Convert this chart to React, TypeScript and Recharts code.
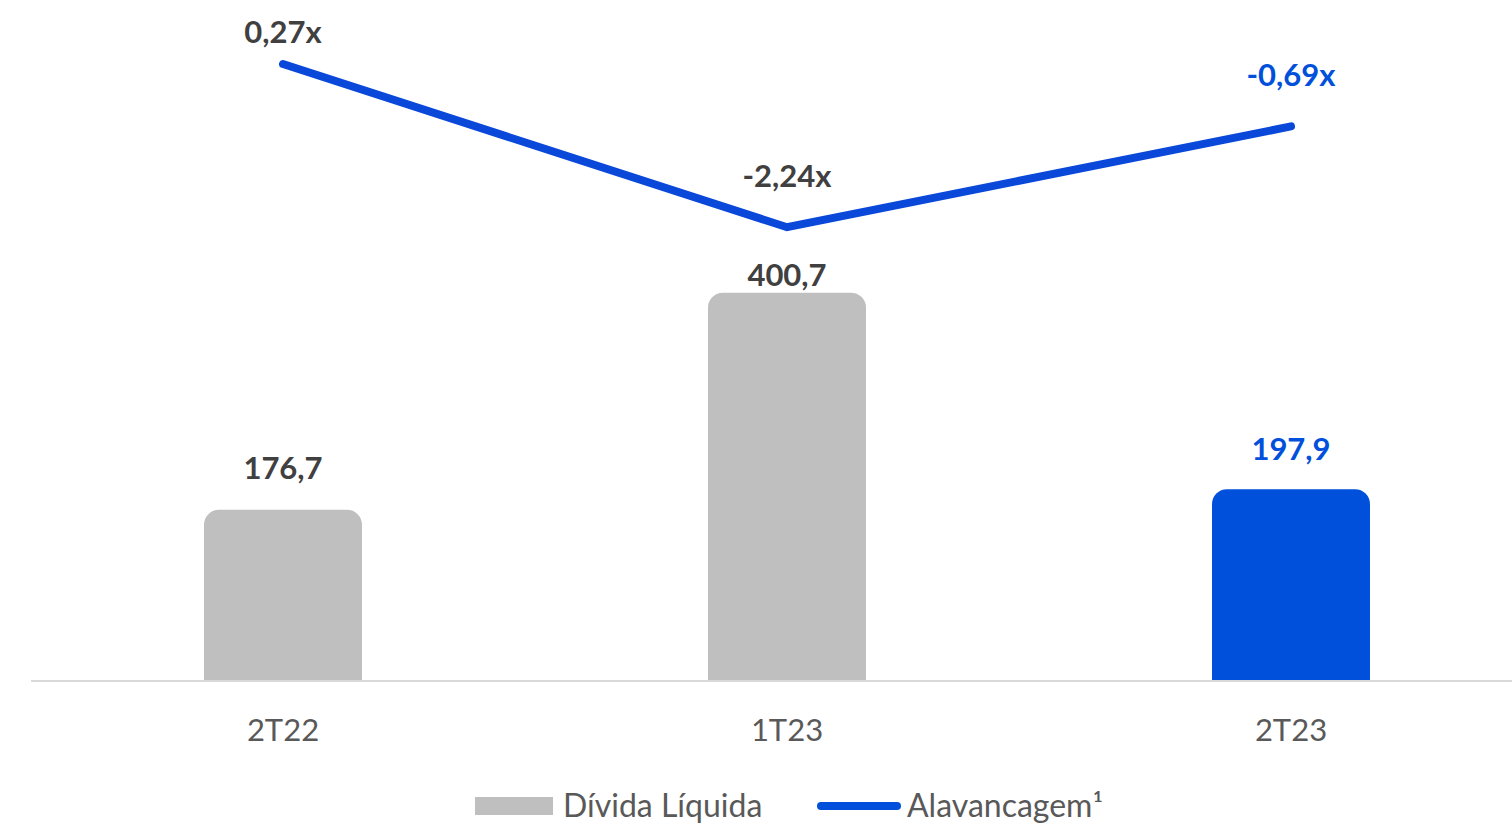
import React from 'react';
import {
  ComposedChart, Bar, Line, XAxis, YAxis, Cell, LabelList, Legend,
} from 'recharts';

const periodos = ['2T22', '1T23', '2T23'];
const dividaLiquida = [176.7, 400.7, 197.9];
const alavancagem = [0.27, -2.24, -0.69];
const rotulosDivida = ['176,7', '400,7', '197,9'];
const rotulosAlav = ['0,27x', '-2,24x', '-0,69x'];

const CINZA = '#BFBFBF';
const AZUL = '#0050DC';
const TEXTO = '#404040';
const FONTE = 'Lato, "Open Sans", sans-serif';

const dados = periodos.map((p, i) => ({
  periodo: p,
  divida: dividaLiquida[i],
  alav: alavancagem[i],
}));

// o último período fica em destaque (azul)
const corDoIndice = (i: number) => (i === periodos.length - 1 ? AZUL : TEXTO);

const RotuloBarra = (props: any) => {
  const { x, y, width, index } = props;
  // o rótulo do meio fica mais perto da barra por causa da linha
  const dy = [31, 7, 29][index] ?? 25;
  return (
    <text
      x={x + width / 2}
      y={y - dy}
      textAnchor="middle"
      fontSize={31}
      fontWeight={700}
      fontFamily={FONTE}
      fill={corDoIndice(index)}
    >
      {rotulosDivida[index]}
    </text>
  );
};

const RotuloLinha = (props: any) => {
  const { x, y, index } = props;
  const dy = index === 0 ? 21 : 40;
  return (
    <text
      x={x}
      y={y - dy}
      textAnchor="middle"
      fontSize={31}
      fontWeight={700}
      fontFamily={FONTE}
      fill={corDoIndice(index)}
    >
      {rotulosAlav[index]}
    </text>
  );
};

const LegendaCustom = () => (
  <div style={{ position: 'relative', height: 38, fontFamily: FONTE, fontSize: 32, color: '#595959' }}>
    <span style={{ position: 'absolute', left: 475, top: 11, width: 78, height: 18, background: CINZA }} />
    <span style={{ position: 'absolute', left: 563, top: 0, lineHeight: '38px' }}>Dívida Líquida</span>
    <span style={{ position: 'absolute', left: 817, top: 16, width: 84, height: 8, borderRadius: 4, background: AZUL }} />
    <span style={{ position: 'absolute', left: 907, top: 0, lineHeight: '38px' }}>Alavancagem¹</span>
  </div>
);

const App: React.FC = () => {
  return (
    <div style={{ position: 'fixed', left: 0, top: 0, width: 1512, height: 825, overflow: 'hidden', background: '#fff' }}>
      <ComposedChart
        width={1545}
        height={825}
        data={dados}
        margin={{ top: 20, right: 2, left: 31, bottom: 0 }}
      >
        <XAxis
          dataKey="periodo"
          axisLine={{ stroke: '#D9D9D9', strokeWidth: 2 }}
          tickLine={false}
          tick={{ fill: '#595959', fontSize: 31, fontFamily: FONTE }}
          tickMargin={32}
          height={90}
        />
        <YAxis yAxisId="div" hide domain={[0, 682]} />
        <YAxis yAxisId="alav" hide orientation="right" domain={[-9.22, 0.947]} />
        <Legend
          verticalAlign="bottom"
          height={54}
          wrapperStyle={{ left: 0, top: 786, width: 1512 }}
          content={<LegendaCustom />}
        />
        <Bar yAxisId="div" dataKey="divida" barSize={158} radius={[15, 15, 0, 0]} isAnimationActive={false}>
          {dados.map((_, i) => (
            <Cell key={i} fill={i === periodos.length - 1 ? AZUL : CINZA} />
          ))}
          <LabelList dataKey="divida" content={<RotuloBarra />} />
        </Bar>
        <Line
          yAxisId="alav"
          dataKey="alav"
          stroke="#0A48DA"
          strokeWidth={8}
          strokeLinecap="round"
          dot={false}
          activeDot={false}
          isAnimationActive={false}
        >
          <LabelList dataKey="alav" content={<RotuloLinha />} />
        </Line>
      </ComposedChart>
    </div>
  );
};

export default App;
